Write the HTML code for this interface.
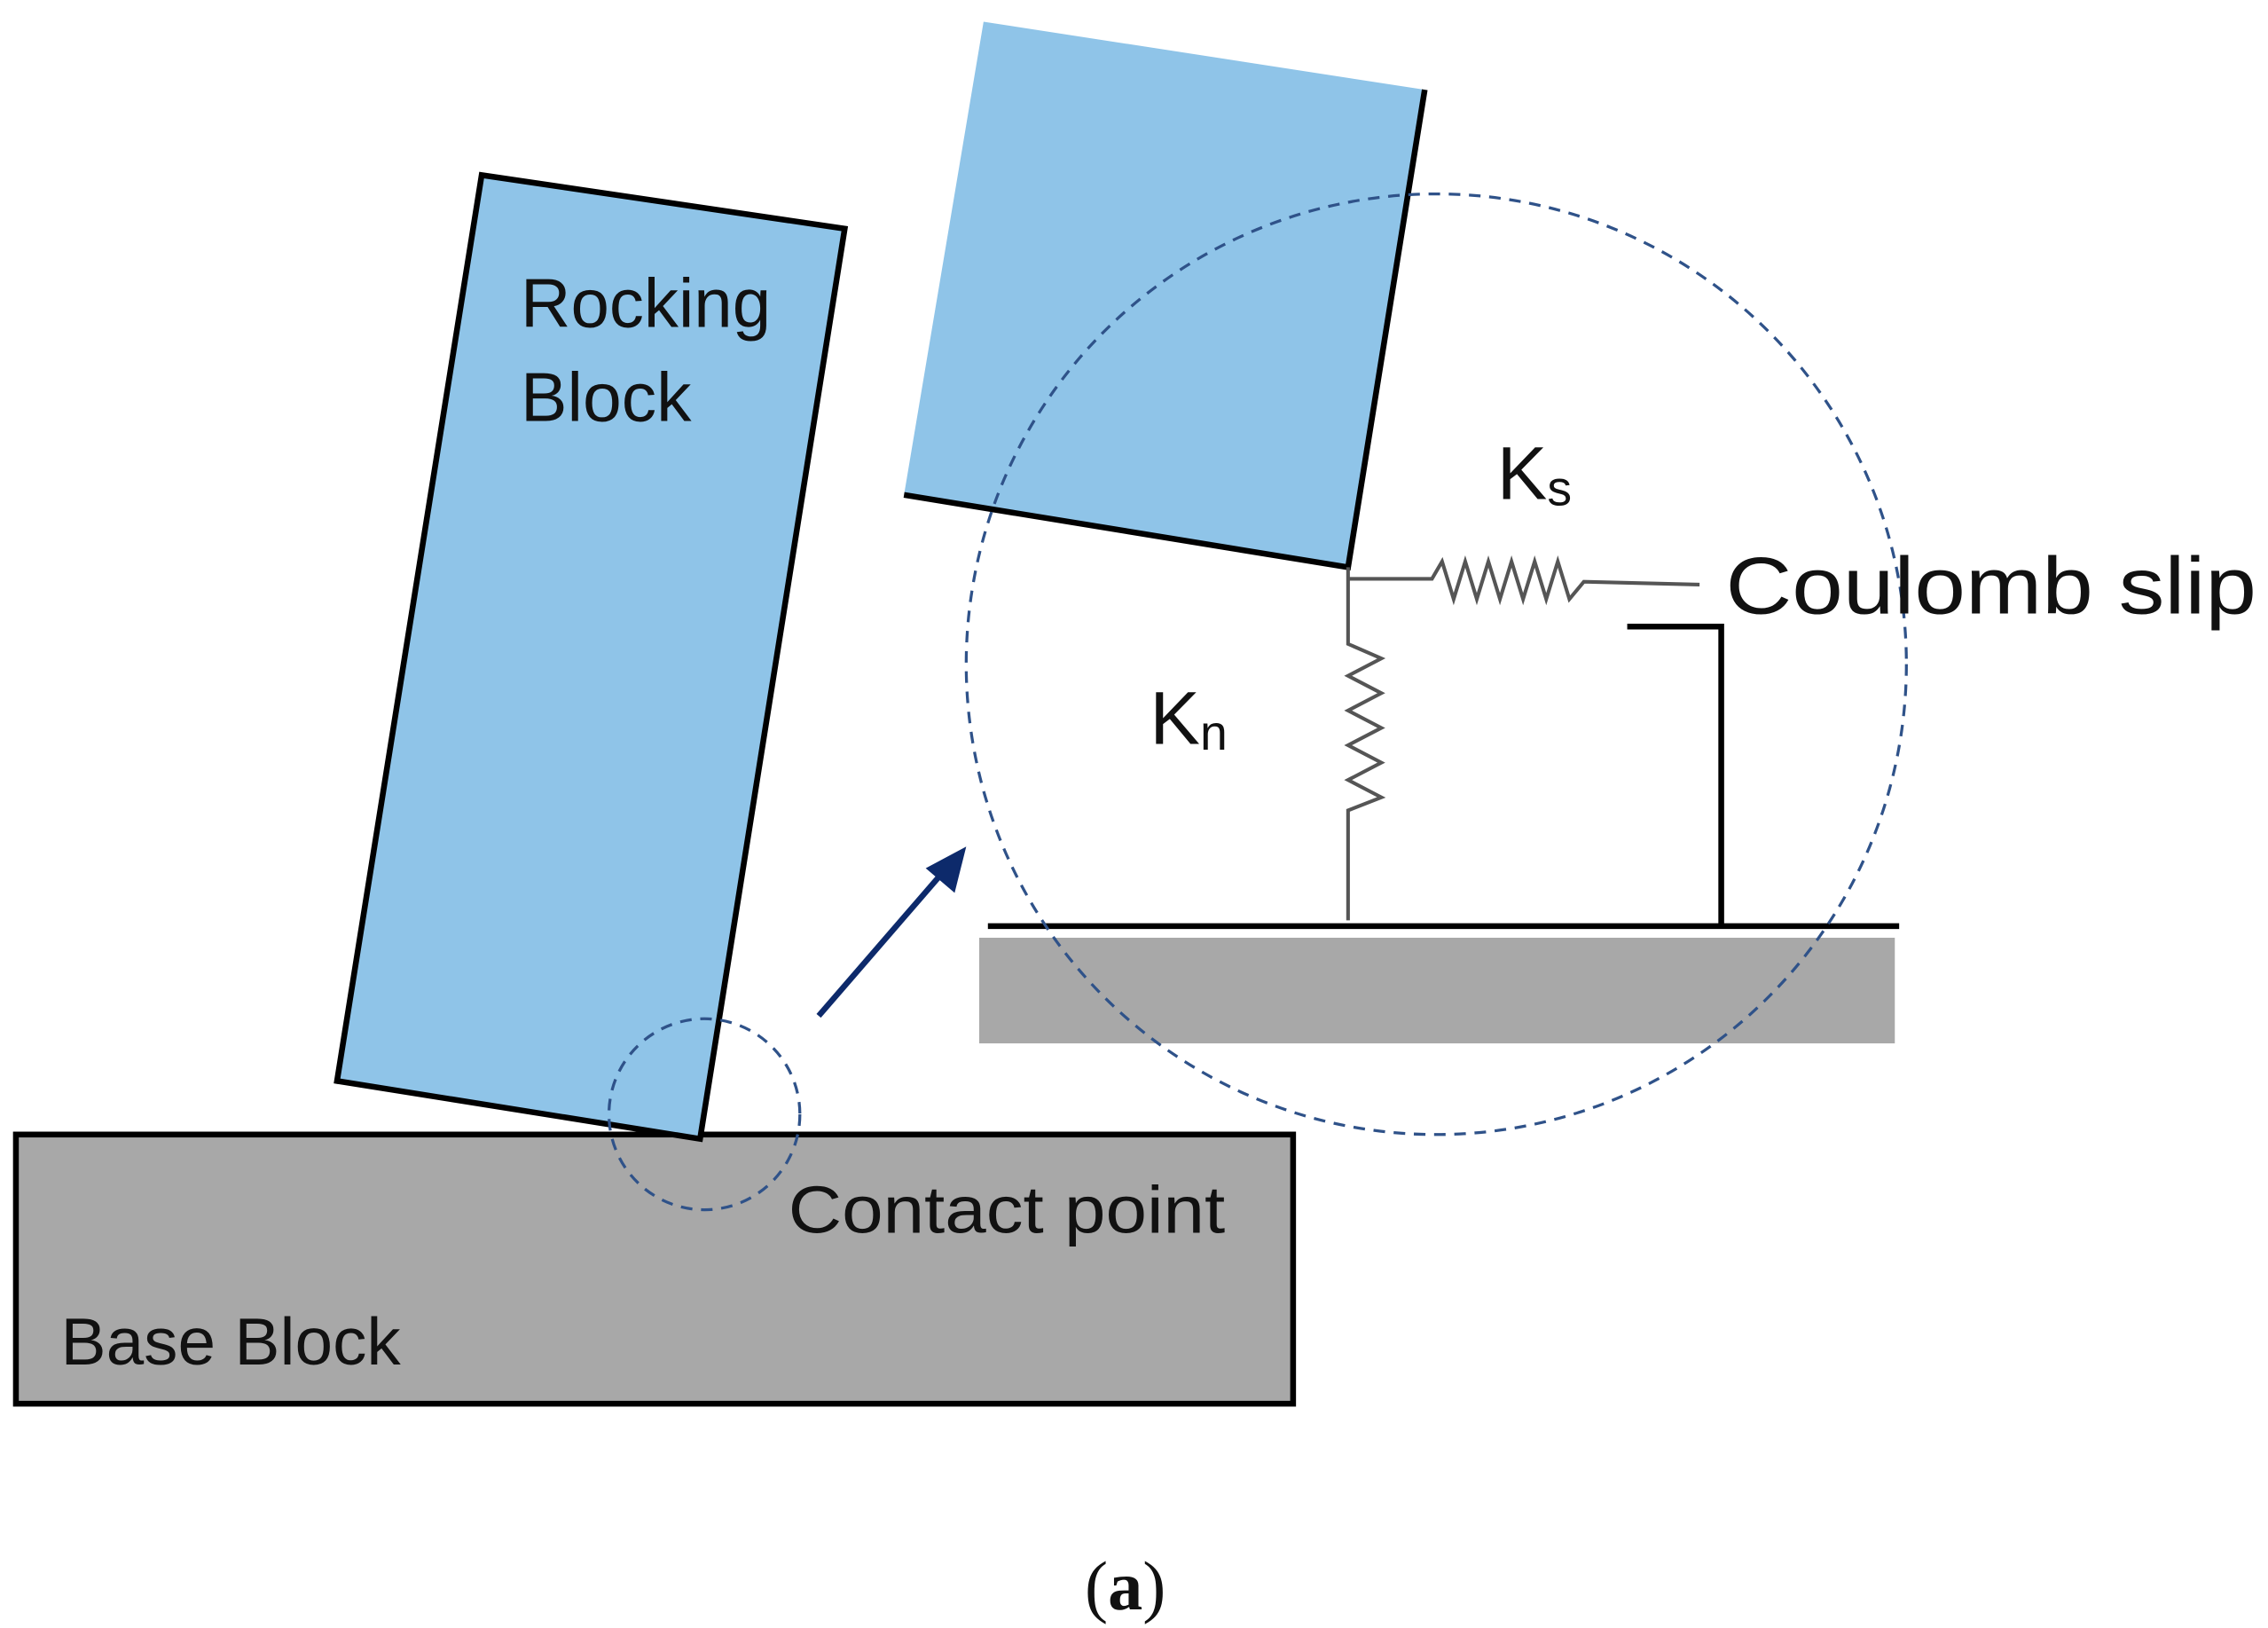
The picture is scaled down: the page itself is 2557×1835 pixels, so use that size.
<!DOCTYPE html>
<html><head><meta charset="utf-8"><style>html,body{margin:0;padding:0;background:#fff}svg{display:block}</style></head>
<body>
<svg width="2557" height="1835" viewBox="0 0 1568 1125" preserveAspectRatio="none" xmlns="http://www.w3.org/2000/svg" font-family="Liberation Sans, sans-serif">
<rect width="1568" height="1125" fill="#fff"/>
<rect x="11" y="784" width="883" height="186" fill="#a8a8a8" stroke="#000" stroke-width="4"/>
<polygon points="333,121 584,158 484,787 233,747" fill="#8fc4e8" stroke="#000" stroke-width="4"/>
<circle cx="487" cy="770" r="66" fill="none" stroke="#2f5289" stroke-width="2" stroke-dasharray="8,6"/>
<line x1="566" y1="702" x2="656" y2="598" stroke="#0d2a6b" stroke-width="4"/>
<polygon points="668,585 640,600 660,617" fill="#0d2a6b"/>
<polygon points="680,15 985,62 932,392 625,342" fill="#8fc4e8"/>
<polyline points="985,62 932,392 625,342" fill="none" stroke="#000" stroke-width="4"/>
<rect x="677" y="648" width="633" height="73" fill="#a8a8a8"/>
<line x1="683" y1="640" x2="1313" y2="640" stroke="#000" stroke-width="4"/>
<polyline points="932,392 932,445 955,455 932,467 955,479 932,491 955,503 932,515 955,527 932,539 955,551 932,560 932,636" fill="none" stroke="#555" stroke-width="2.5"/>
<polyline points="932,400 990,400 997,388 1005,414 1013,388 1021,414 1029,388 1037,414 1045,388 1053,414 1061,388 1069,414 1077,388 1085,414 1095,402 1175,404" fill="none" stroke="#555" stroke-width="2.5"/>
<polyline points="1125,433 1190,433 1190,640" fill="none" stroke="#000" stroke-width="4"/>
<circle cx="993" cy="459" r="325" fill="none" stroke="#2f5289" stroke-width="2" stroke-dasharray="8,6"/>
<g fill="#111" font-size="48">
<text x="360" y="226" textLength="173" lengthAdjust="spacingAndGlyphs">Rocking</text>
<text x="360" y="291" textLength="118" lengthAdjust="spacingAndGlyphs">Block</text>
<text x="545" y="852" font-size="46" textLength="302" lengthAdjust="spacingAndGlyphs">Contact point</text>
<text x="42" y="943" font-size="46" textLength="235" lengthAdjust="spacingAndGlyphs">Base Block</text>
<text x="1193" y="424" font-size="56" textLength="367" lengthAdjust="spacingAndGlyphs">Coulomb slip</text>
<text x="795" y="514" font-size="52">K<tspan font-size="34" dy="4">n</tspan></text>
<text x="1035" y="345" font-size="52">K<tspan font-size="34" dy="4">s</tspan></text>
</g>
<text x="750" y="1112" font-family="Liberation Serif, serif" font-size="48" fill="#111">(<tspan font-weight="bold">a</tspan>)</text>
</svg>
</body></html>
